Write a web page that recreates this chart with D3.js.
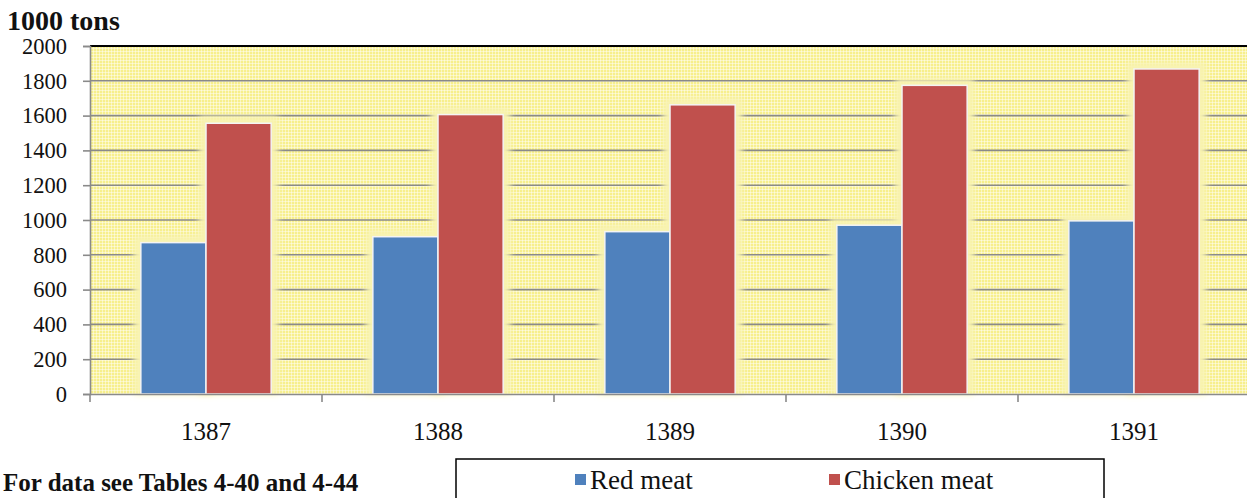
<!DOCTYPE html>
<html>
<head>
<meta charset="utf-8">
<style>
  body { margin: 0; background: #fff; }
  svg { display: block; font-family: "Liberation Serif", "Times New Roman", serif; }
</style>
</head>
<body>
<div id="chart"></div>
<script src="https://d3js.org/d3.v7.min.js"></script>
<script>
// data
var years = ["1387", "1388", "1389", "1390", "1391"];
var seriesNames = ["Red meat", "Chicken meat"];
var redMeat = [870, 904, 933, 970, 995];
var chickenMeat = [1556, 1606, 1662, 1774, 1868];
var yTicks = [0, 200, 400, 600, 800, 1000, 1200, 1400, 1600, 1800, 2000];
var colors = ["#4f81bd", "#c0504d"];

var width = 1247, height = 498;
var plot = {left: 90, top: 46, right: 1250, bottom: 394};

var svg = d3.select("#chart").append("svg")
    .attr("width", width)
    .attr("height", height);

var defs = svg.append("defs");
var pat = defs.append("pattern")
    .attr("id", "dots")
    .attr("width", 3).attr("height", 3)
    .attr("patternUnits", "userSpaceOnUse");
pat.append("rect").attr("width", 3).attr("height", 3).attr("fill", "#f7ef8c");
pat.append("rect").attr("width", 3).attr("height", 1).attr("fill", "#fff").attr("opacity", 0.45);
pat.append("rect").attr("width", 1).attr("height", 3).attr("fill", "#fff").attr("opacity", 0.45);

var glow = defs.append("filter").attr("id", "glow")
    .attr("x", "-20%").attr("y", "-20%").attr("width", "140%").attr("height", "140%");
glow.append("feGaussianBlur").attr("stdDeviation", 3);

// scales
var x = d3.scaleBand().domain(years).range([plot.left, plot.right]);
var x1 = d3.scaleBand().domain(seriesNames).range([0, x.bandwidth()])
    .paddingInner(0).paddingOuter(0.78);
var y = d3.scaleLinear().domain([0, 2000]).range([plot.bottom, plot.top]);

// plot background
svg.append("rect")
    .attr("x", plot.left).attr("y", plot.top)
    .attr("width", plot.right - plot.left).attr("height", plot.bottom - plot.top)
    .attr("fill", "url(#dots)");

// gridlines
svg.append("g")
  .selectAll("line")
  .data(yTicks.filter(function(d) { return d > 0 && d < 2000; }))
  .enter().append("line")
    .attr("x1", plot.left).attr("x2", plot.right)
    .attr("y1", function(d) { return y(d); })
    .attr("y2", function(d) { return y(d); })
    .attr("stroke", "#8a8a8a")
    .attr("stroke-width", 1.6);

// top border
svg.append("line")
    .attr("x1", plot.left).attr("x2", plot.right)
    .attr("y1", plot.top).attr("y2", plot.top)
    .attr("stroke", "#000").attr("stroke-width", 2);

var rows = years.map(function(yr, i) {
  return {year: yr, values: [redMeat[i], chickenMeat[i]]};
});

var groups = svg.append("g").selectAll("g")
  .data(rows)
  .enter().append("g")
    .attr("transform", function(d) { return "translate(" + x(d.year) + ",0)"; });

// soft glow behind each bar
groups.selectAll("rect.halo")
  .data(function(d) { return d.values.map(function(v, k) { return {key: seriesNames[k], value: v}; }); })
  .enter().append("rect")
    .attr("class", "halo")
    .attr("x", function(d) { return x1(d.key) - 7; })
    .attr("y", function(d) { return y(d.value) - 7; })
    .attr("width", x1.bandwidth() + 14)
    .attr("height", function(d) { return y(0) - y(d.value) + 7; })
    .attr("fill", "#f8f3b0")
    .attr("filter", "url(#glow)");

groups.selectAll("rect.bar")
  .data(function(d) { return d.values.map(function(v, k) { return {key: seriesNames[k], value: v, k: k}; }); })
  .enter().append("rect")
    .attr("class", "bar")
    .attr("x", function(d) { return x1(d.key); })
    .attr("y", function(d) { return y(d.value); })
    .attr("width", x1.bandwidth())
    .attr("height", function(d) { return y(0) - y(d.value); })
    .attr("fill", function(d) { return colors[d.k]; })
    .attr("stroke", "#f4f4f4")
    .attr("stroke-width", 1.5);

// y axis
var yAxis = svg.append("g")
    .attr("transform", "translate(" + plot.left + ",0)")
    .call(d3.axisLeft(y).tickValues(yTicks).tickSize(7).tickPadding(16).tickFormat(d3.format("d")));
yAxis.selectAll("path, line").attr("stroke", "#8a8a8a").attr("stroke-width", 1.6);
yAxis.selectAll("text").attr("font-size", 22.5).attr("fill", "#111")
    .attr("font-family", "Liberation Serif");

// x axis
var xAxis = svg.append("g")
    .attr("transform", "translate(0," + plot.bottom + ")")
    .call(d3.axisBottom(x).tickSize(0));
xAxis.select(".domain").attr("stroke", "#8a8a8a").attr("stroke-width", 1.6);
xAxis.selectAll("text").attr("font-size", 25).attr("fill", "#111")
    .attr("font-family", "Liberation Serif")
    .attr("y", 46).attr("dy", 0);
// category separators
xAxis.selectAll("line.sep")
  .data(years)
  .enter().append("line")
    .attr("class", "sep")
    .attr("x1", function(d) { return x(d); }).attr("x2", function(d) { return x(d); })
    .attr("y1", 0).attr("y2", 8)
    .attr("stroke", "#8a8a8a").attr("stroke-width", 1.6);

// unit title
svg.append("text")
    .attr("x", 7).attr("y", 30)
    .attr("font-size", 28).attr("font-weight", "bold").attr("fill", "#111")
    .text("1000 tons");

// footnote
svg.append("text")
    .attr("x", 3).attr("y", 491)
    .attr("font-size", 25).attr("font-weight", "bold").attr("fill", "#111")
    .text("For data see Tables 4-40 and 4-44");

// legend
var legend = svg.append("g");
legend.append("rect")
    .attr("x", 456).attr("y", 459)
    .attr("width", 648).attr("height", 60)
    .attr("fill", "#fff").attr("stroke", "#000").attr("stroke-width", 1.5);
var legendX = [575, 829];
var items = legend.selectAll("g.item")
  .data(seriesNames)
  .enter().append("g")
    .attr("class", "item")
    .attr("transform", function(d, i) { return "translate(" + legendX[i] + ",0)"; });
items.append("rect")
    .attr("x", 0).attr("y", 474).attr("width", 11).attr("height", 11)
    .attr("fill", function(d, i) { return colors[i]; });
items.append("text")
    .attr("x", 15).attr("y", 489)
    .attr("font-size", 27).attr("fill", "#111")
    .text(function(d) { return d; });
</script>
</body>
</html>
